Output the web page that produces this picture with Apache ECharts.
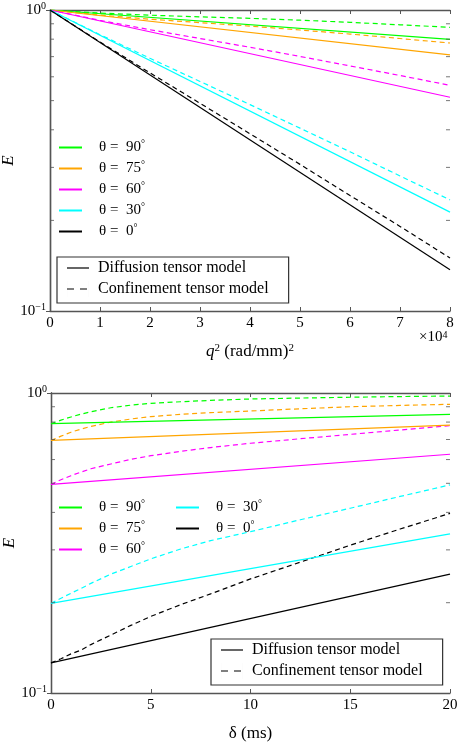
<!DOCTYPE html>
<html>
<head>
<meta charset="utf-8">
<script src="https://cdn.jsdelivr.net/npm/echarts@6/dist/echarts.min.js"></script>
<style>
html,body{margin:0;padding:0;background:#fff;}
#chart{width:458px;height:742px;}
</style>
</head>
<body>
<div id="chart"></div>
<script>
var thetaNames = ['θ =  90°', 'θ =  75°', 'θ =  60°', 'θ =  30°', 'θ =  0°'];
var modelNames = ['Diffusion tensor model', 'Confinement tensor model'];

// top panel : E vs q^2 (x10^4 (rad/mm)^2)
var qEnds = [0, 8];
var qSq = [0, 1, 2, 3, 4, 5, 6, 7, 8];
var qTicks = [0, 8, 1];
var diffQ90 = [1, 0.799];
var diffQ75 = [1, 0.709];
var diffQ60 = [1, 0.513];
var diffQ30 = [1, 0.213];
var diffQ0 = [1, 0.137];
var confQ90 = [1, 0.977, 0.961, 0.949, 0.938, 0.925, 0.910, 0.893, 0.876];
var confQ75 = [1, 0.962, 0.932, 0.908, 0.884, 0.858, 0.832, 0.804, 0.777];
var confQ60 = [1, 0.924, 0.860, 0.804, 0.752, 0.701, 0.652, 0.606, 0.562];
var confQ30 = [1, 0.828, 0.691, 0.579, 0.485, 0.405, 0.338, 0.281, 0.234];
var confQ0 = [1, 0.783, 0.618, 0.490, 0.388, 0.307, 0.242, 0.191, 0.150];

// bottom panel : E vs delta (ms)
var deltaEnds = [0, 20];
var deltas = [0, 0.5, 1, 1.5, 2, 3, 4, 5, 6.5, 8, 10, 12.5, 15, 17.5, 20];
var deltaTicks = [0, 20, 5];
var diffD90 = [0.790, 0.849];
var diffD75 = [0.695, 0.782];
var diffD60 = [0.496, 0.625];
var diffD30 = [0.199, 0.339];
var diffD0 = [0.126, 0.249];
var confD90 = [0.790, 0.812, 0.832, 0.850, 0.866, 0.893, 0.911, 0.924, 0.935, 0.945, 0.955, 0.962, 0.968, 0.973, 0.977];
var confD75 = [0.695, 0.718, 0.740, 0.758, 0.774, 0.800, 0.819, 0.834, 0.849, 0.860, 0.871, 0.886, 0.900, 0.909, 0.917];
var confD60 = [0.496, 0.514, 0.530, 0.545, 0.559, 0.580, 0.601, 0.618, 0.639, 0.658, 0.680, 0.704, 0.728, 0.753, 0.778];
var confD30 = [0.199, 0.207, 0.215, 0.223, 0.232, 0.249, 0.264, 0.280, 0.302, 0.322, 0.345, 0.378, 0.413, 0.452, 0.494];
var confD0 = [0.126, 0.130, 0.135, 0.139, 0.145, 0.156, 0.168, 0.180, 0.197, 0.214, 0.240, 0.273, 0.311, 0.352, 0.397];

var eRange = [0.1, 1];
var minorTickValues = [0.2, 0.3, 0.4, 0.5, 0.6, 0.7, 0.8, 0.9];

var colors = ['#00ff00', '#ffa500', '#ff00ff', '#00ffff', '#000000'];
var FONT = 'Liberation Serif';
var DASH = [5, 3.5];

var supStyle = {fontFamily: FONT, fontSize: 10, lineHeight: 10, verticalAlign: 'top', color: '#000'};
var numStyle = {fontFamily: FONT, fontSize: 15, lineHeight: 17, color: '#000'};

// tiny deep extend (no jQuery on this page)
var $ = {extend: function(deep, target){
	for(var a = 2; a < arguments.length; a++){
		var src = arguments[a];
		for(var k in src){
			var v = src[k];
			if(v && typeof v === 'object' && !Array.isArray(v)){
				target[k] = $.extend(true, target[k] && typeof target[k] === 'object' ? target[k] : {}, v);
			}else{
				target[k] = v;
			}
		}
	}
	return target;
}};

function pairs(xs, ys){
	var out = [];
	for(var i = 0; i < ys.length; i++){
		out.push([xs[i], ys[i]]);
	}
	return out;
}

function curve(name, xs, ys, color, dashed, g){
	return {
		type: 'line',
		name: name,
		xAxisIndex: g * 2,
		yAxisIndex: g * 2,
		data: pairs(xs, ys),
		symbol: 'none',
		lineStyle: {color: color, width: 1.2, type: dashed ? DASH : 'solid', cap: 'butt'},
		itemStyle: {color: color},
		z: dashed ? 3 : 4,
		silent: true
	};
}

function minorTicks(g, xVal, offset){
	var data = [];
	for(var i = 0; i < minorTickValues.length; i++){
		data.push([xVal, minorTickValues[i]]);
	}
	return {
		type: 'scatter',
		xAxisIndex: g * 2,
		yAxisIndex: g * 2,
		data: data,
		symbol: 'rect',
		symbolSize: [4, 1],
		symbolOffset: [offset, 0],
		itemStyle: {color: '#555'},
		clip: false,
		silent: true,
		z: 10
	};
}

function logLabel(v){
	var e = Math.round(Math.log(v) / Math.LN10);
	return '{n|10}{sup|' + (e < 0 ? '\u2212' + (-e) : e) + '}';
}

function xAxes(g, ticks, name){
	var lineColor = '#555';
	var base = {
		type: 'value',
		gridIndex: g,
		min: ticks[0],
		max: ticks[1],
		interval: ticks[2],
		splitLine: {show: false},
		axisTick: {inside: true, length: 4, lineStyle: {color: lineColor}},
		axisLine: {onZero: false, lineStyle: {color: lineColor, width: 1.3}}
	};
	var bottom = $.extend(true, {}, base, {
		position: 'bottom',
		name: name,
		nameLocation: 'middle',
		nameGap: 32,
		nameMoveOverlap: false,
		nameTextStyle: {fontFamily: FONT, fontSize: 17, color: '#000', rich: {
			i: {fontFamily: FONT, fontSize: 17, fontStyle: 'italic', color: '#000'},
			sup: {fontFamily: FONT, fontSize: 11, lineHeight: 11, verticalAlign: 'top', color: '#000'}
		}},
		axisLabel: {margin: 5, fontFamily: FONT, fontSize: 15, color: '#000'}
	});
	var top = $.extend(true, {}, base, {position: 'top', axisLabel: {show: false}});
	return [bottom, top];
}

function yAxes(g, leftColor){
	var base = {
		type: 'log',
		logBase: 10,
		gridIndex: g,
		min: eRange[0],
		max: eRange[1],
		splitLine: {show: false},
		minorTick: {show: false},
		axisTick: {inside: true, length: 4, lineStyle: {color: '#555'}}
	};
	var left = $.extend(true, {}, base, {
		position: 'left',
		name: 'E',
		nameLocation: 'middle',
		nameGap: 33,
		nameMoveOverlap: false,
		nameRotate: 90,
		nameTextStyle: {fontFamily: FONT, fontSize: 17, fontStyle: 'italic', color: '#000'},
		axisLine: {lineStyle: {color: leftColor, width: 1.3}},
		axisLabel: {margin: 4, formatter: logLabel, rich: {n: numStyle, sup: supStyle}}
	});
	var right = $.extend(true, {}, base, {
		position: 'right',
		axisLine: {lineStyle: {color: '#555', width: 1.3}},
		axisLabel: {show: false}
	});
	return [left, right];
}

function thetaLegend(names, left, top){
	return {
		data: names,
		orient: 'vertical',
		left: left,
		top: top,
		icon: 'path://M0,6h23v2h-23z',
		itemWidth: 23,
		itemHeight: 14,
		itemGap: 5,
		padding: 0,
		selectedMode: false,
		formatter: function(n){ return '{t|' + n.replace('°', '') + '}{sup|°}'; },
		textStyle: {
			padding: [0, 0, 0, 12],
			rich: {
				t: {fontFamily: FONT, fontSize: 15, lineHeight: 17, color: '#000'},
				sup: {fontFamily: FONT, fontSize: 10, lineHeight: 10, verticalAlign: 'top', color: '#000'}
			}
		}
	};
}

function modelLegend(left, top){
	return {
		data: [
			{name: modelNames[0], icon: 'path://M0,7.4h22v1.2h-22z'},
			{name: modelNames[1], icon: 'path://M0,7.4h7v1.2h-7z M13,7.4h7v1.2h-7z M0,0h0.01v16h-0.01z M22,0h0.01v16h-0.01z'}
		],
		orient: 'vertical',
		left: left,
		top: top,
		itemWidth: 22,
		itemHeight: 16,
		itemGap: 5,
		padding: [3, 20, 6, 10],
		borderColor: '#333',
		borderWidth: 1.2,
		selectedMode: false,
		textStyle: {fontFamily: FONT, fontSize: 16, color: '#000', padding: [0, 0, 0, 4]}
	};
}

var series = [];
var topDiff = [diffQ90, diffQ75, diffQ60, diffQ30, diffQ0];
var topConf = [confQ90, confQ75, confQ60, confQ30, confQ0];
var botDiff = [diffD90, diffD75, diffD60, diffD30, diffD0];
var botConf = [confD90, confD75, confD60, confD30, confD0];
for(var i = 0; i < thetaNames.length; i++){
	series.push(curve(thetaNames[i], qEnds, topDiff[i], colors[i], false, 0));
	series.push(curve('top conf ' + i, qSq, topConf[i], colors[i], true, 0));
	series.push(curve(thetaNames[i], deltaEnds, botDiff[i], colors[i], false, 1));
	series.push(curve('bottom conf ' + i, deltas, botConf[i], colors[i], true, 1));
}
// legend-only entries for the two models
series.push(curve(modelNames[0], [], [], '#000', false, 0));
series.push(curve(modelNames[1], [], [], '#000', true, 0));
series.push(minorTicks(0, qTicks[0], 2));
series.push(minorTicks(0, qTicks[1], -2));
series.push(minorTicks(1, deltaTicks[0], 2));
series.push(minorTicks(1, deltaTicks[1], -2));

var topX = xAxes(0, qTicks, '{i|q}{sup|2} (rad/mm){sup|2}');
var botX = xAxes(1, deltaTicks, 'δ (ms)');
var topY = yAxes(0, '#111');
var botY = yAxes(1, '#555');

var option = {
	animation: false,
	backgroundColor: '#fff',
	title: {
		text: '×10{sup|4}',
		left: 419,
		top: 330,
		padding: 0,
		textStyle: {fontFamily: FONT, fontSize: 15, fontWeight: 'normal', color: '#000', rich: {sup: supStyle}}
	},
	grid: [
		{left: 50, top: 10, width: 400, height: 301, containLabel: false, outerBoundsMode: 'none'},
		{left: 51, top: 393, width: 399, height: 300, containLabel: false, outerBoundsMode: 'none'}
	],
	xAxis: [topX[0], topX[1], botX[0], botX[1]],
	yAxis: [topY[0], topY[1], botY[0], botY[1]],
	legend: [
		thetaLegend(thetaNames, 59, 139),
		modelLegend(57, 257),
		thetaLegend(thetaNames.slice(0, 3), 59, 499),
		thetaLegend(thetaNames.slice(3), 176, 499),
		modelLegend(211, 639)
	],
	series: series
};

var mychart = echarts.init(document.getElementById('chart'), null, {renderer: 'canvas'});
mychart.setOption(option);
</script>
</body>
</html>
